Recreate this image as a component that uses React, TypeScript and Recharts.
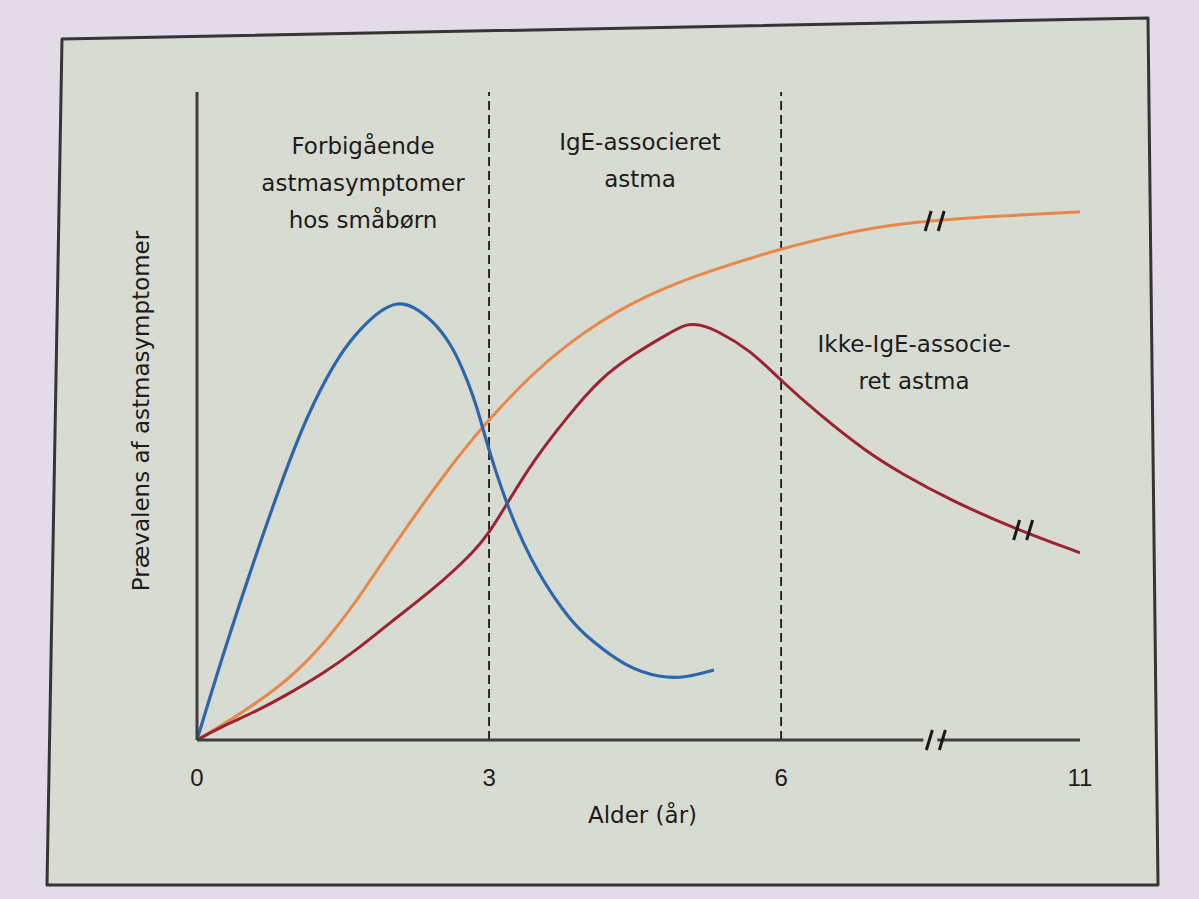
import React from "react";
import {
  LineChart,
  Line,
  XAxis,
  YAxis,
  ReferenceLine,
  ReferenceDot,
  Label,
} from "recharts";

// Ages in years; values are prevalence on a 0-100 scale (schematic)
const transientWheeze = [
  { age: 0, v: 0 },
  { age: 0.27, v: 13.4 },
  { age: 0.62, v: 29.3 },
  { age: 0.96, v: 43.7 },
  { age: 1.19, v: 52.0 },
  { age: 1.47, v: 59.7 },
  { age: 1.68, v: 63.5 },
  { age: 1.88, v: 66.3 },
  { age: 2.06, v: 67.6 },
  { age: 2.22, v: 67.0 },
  { age: 2.43, v: 64.6 },
  { age: 2.6, v: 61.3 },
  { age: 2.73, v: 57.3 },
  { age: 2.84, v: 53.0 },
  { age: 2.92, v: 49.0 },
  { age: 3.0, v: 44.6 },
  { age: 3.21, v: 35.0 },
  { age: 3.49, v: 25.8 },
  { age: 3.85, v: 18.1 },
  { age: 4.04, v: 15.5 },
  { age: 4.4, v: 11.3 },
  { age: 4.76, v: 9.6 },
  { age: 5.02, v: 9.6 },
  { age: 5.31, v: 10.8 },
];

const igeAsthma = [
  { age: 0, v: 0 },
  { age: 0.27, v: 2.4 },
  { age: 0.62, v: 5.8 },
  { age: 0.96, v: 9.6 },
  { age: 1.29, v: 14.6 },
  { age: 1.64, v: 21.4 },
  { age: 1.98, v: 29.2 },
  { age: 2.59, v: 42.1 },
  { age: 2.99, v: 49.4 },
  { age: 3.45, v: 56.6 },
  { age: 3.8, v: 61.0 },
  { age: 4.14, v: 64.6 },
  { age: 4.48, v: 67.5 },
  { age: 4.83, v: 69.9 },
  { age: 5.17, v: 71.9 },
  { age: 6, v: 75.9 },
  { age: 7.16, v: 78.4 },
  { age: 8, v: 79.8 },
  { age: 9.66, v: 80.9 },
  { age: 11, v: 81.5 },
];

const nonIgeAsthma = [
  { age: 0, v: 0 },
  { age: 0.27, v: 2.2 },
  { age: 0.62, v: 4.5 },
  { age: 0.96, v: 7.3 },
  { age: 1.29, v: 10.2 },
  { age: 1.64, v: 13.9 },
  { age: 1.98, v: 18.1 },
  { age: 2.4, v: 22.9 },
  { age: 2.8, v: 28.3 },
  { age: 3.0, v: 31.9 },
  { age: 3.19, v: 36.6 },
  { age: 3.45, v: 43.0 },
  { age: 3.8, v: 49.8 },
  { age: 4.14, v: 55.8 },
  { age: 4.48, v: 59.5 },
  { age: 4.83, v: 62.6 },
  { age: 5.03, v: 64.3 },
  { age: 5.17, v: 64.1 },
  { age: 5.34, v: 63.2 },
  { age: 5.68, v: 60.2 },
  { age: 5.99, v: 55.6 },
  { age: 6.6, v: 50.5 },
  { age: 7.45, v: 44.3 },
  { age: 8, v: 41.2 },
  { age: 8.83, v: 37.0 },
  { age: 9.96, v: 32.4 },
  { age: 11, v: 28.9 },
];

const xTicks = [0, 3, 6, 11];
const phaseLines = [3, 6];

// where the "//" break marks sit
const breakMarks = [
  { age: 8.46, v: 80.1, onAxis: false },
  { age: 9.94, v: 32.4, onAxis: false },
  { age: 8.48, v: 0, onAxis: true },
];

// the axis is broken after 6 years, later years are squeezed
const BREAK_AT = 6;
const BREAK_SCALE = 0.614;
const toAxis = (age: number) =>
  age <= BREAK_AT ? age : BREAK_AT + (age - BREAK_AT) * BREAK_SCALE;
const prep = (rows: { age: number; v: number }[]) =>
  rows.map((r) => ({ x: toAxis(r.age), y: r.v }));

const FONT = "'DejaVu Sans', sans-serif";
const INK = "#1c1c1c";
const PANEL = "#d7dbd1";

const BreakMark = (props: any) => {
  const { cx, cy, onAxis } = props;
  return (
    <g>
      {onAxis && <rect x={cx - 6} y={cy - 3} width={14} height={6} fill={PANEL} />}
      <line x1={cx - 3} y1={cy + 10} x2={cx + 3} y2={cy - 10} stroke="#1a1a1a" strokeWidth={3} />
      <line x1={cx + 10} y1={cy + 10} x2={cx + 16} y2={cy - 10} stroke="#1a1a1a" strokeWidth={3} />
    </g>
  );
};

const XTitle = (props: any) => {
  const vb = props.viewBox || { x: 197, y: 740, width: 883, height: 90 };
  return (
    <text
      x={vb.x + vb.width / 2 + 4}
      y={vb.y + 75}
      textAnchor="middle"
      dominantBaseline="central"
      fontFamily={FONT}
      fontSize={23}
      fill={INK}
    >
      Alder (år)
    </text>
  );
};

const YTitle = (props: any) => {
  const vb = props.viewBox || { x: 137, y: 92, width: 60, height: 648 };
  const cx = vb.x + 4;
  const cy = vb.y + vb.height / 2 - 5;
  return (
    <text
      x={cx}
      y={cy}
      transform={`rotate(-90 ${cx} ${cy})`}
      textAnchor="middle"
      dominantBaseline="central"
      fontFamily={FONT}
      fontSize={23}
      fill={INK}
    >
      Prævalens af astmasymptomer
    </text>
  );
};

const notes = [
  { lines: ["Forbigående", "astmasymptomer", "hos småbørn"], cx: 363, top: 128 },
  { lines: ["IgE-associeret", "astma"], cx: 640, top: 124 },
  { lines: ["Ikke-IgE-associe-", "ret astma"], cx: 914, top: 326 },
];

export default function App() {
  return (
    <div
      style={{
        position: "fixed",
        left: 0,
        top: 0,
        width: 1199,
        height: 899,
        background: "#e3dbe7",
        overflow: "hidden",
      }}
    >
      <svg width={1199} height={899} style={{ position: "absolute", left: 0, top: 0 }}>
        <polygon
          points="62,39 1148,18 1158,885 47,885"
          fill={PANEL}
          stroke="#353535"
          strokeWidth={3}
          strokeLinejoin="round"
        />
      </svg>

      <div style={{ position: "absolute", left: 0, top: 0 }}>
        <LineChart
          width={1199}
          height={899}
          margin={{ top: 92, right: 119, bottom: 69, left: 137 }}
        >
          <XAxis
            type="number"
            dataKey="x"
            domain={[0, toAxis(11)]}
            ticks={xTicks.map(toAxis)}
            tickFormatter={(_v: number, i: number) => String(xTicks[i])}
            allowDataOverflow
            height={90}
            tickLine={false}
            tickSize={0}
            tickMargin={29}
            axisLine={{ stroke: "#3f3f3f", strokeWidth: 3 }}
            tick={{ fill: INK, fontSize: 24, fontFamily: "'Liberation Sans', Arial, sans-serif" }}
          >
            <Label content={XTitle} />
          </XAxis>
          <YAxis
            type="number"
            domain={[0, 100]}
            width={60}
            tick={false}
            tickLine={false}
            axisLine={{ stroke: "#3f3f3f", strokeWidth: 3 }}
            allowDataOverflow
          >
            <Label content={YTitle} />
          </YAxis>

          {phaseLines.map((age) => (
            <ReferenceLine
              key={age}
              x={toAxis(age)}
              stroke="#1a1a1a"
              strokeWidth={1.8}
              strokeDasharray="9 5"
            />
          ))}

          <Line
            data={prep(igeAsthma)}
            dataKey="y"
            type="basis"
            stroke="#e8874a"
            strokeWidth={3}
            dot={false}
            isAnimationActive={false}
          />
          <Line
            data={prep(nonIgeAsthma)}
            dataKey="y"
            type="basis"
            stroke="#9c2331"
            strokeWidth={3}
            dot={false}
            isAnimationActive={false}
          />
          <Line
            data={prep(transientWheeze)}
            dataKey="y"
            type="basis"
            stroke="#2d67ab"
            strokeWidth={3.2}
            dot={false}
            isAnimationActive={false}
          />

          {breakMarks.map((b, i) => (
            <ReferenceDot
              key={i}
              x={toAxis(b.age)}
              y={b.v}
              r={0}
              ifOverflow="visible"
              shape={(p: any) => <BreakMark {...p} onAxis={b.onAxis} />}
            />
          ))}
        </LineChart>
      </div>

      {notes.map((n, i) => (
        <div
          key={i}
          style={{
            position: "absolute",
            left: n.cx - 150,
            top: n.top,
            width: 300,
            textAlign: "center",
            fontFamily: FONT,
            fontSize: 23,
            lineHeight: "37px",
            color: INK,
          }}
        >
          {n.lines.map((l) => (
            <div key={l}>{l}</div>
          ))}
        </div>
      ))}
    </div>
  );
}
